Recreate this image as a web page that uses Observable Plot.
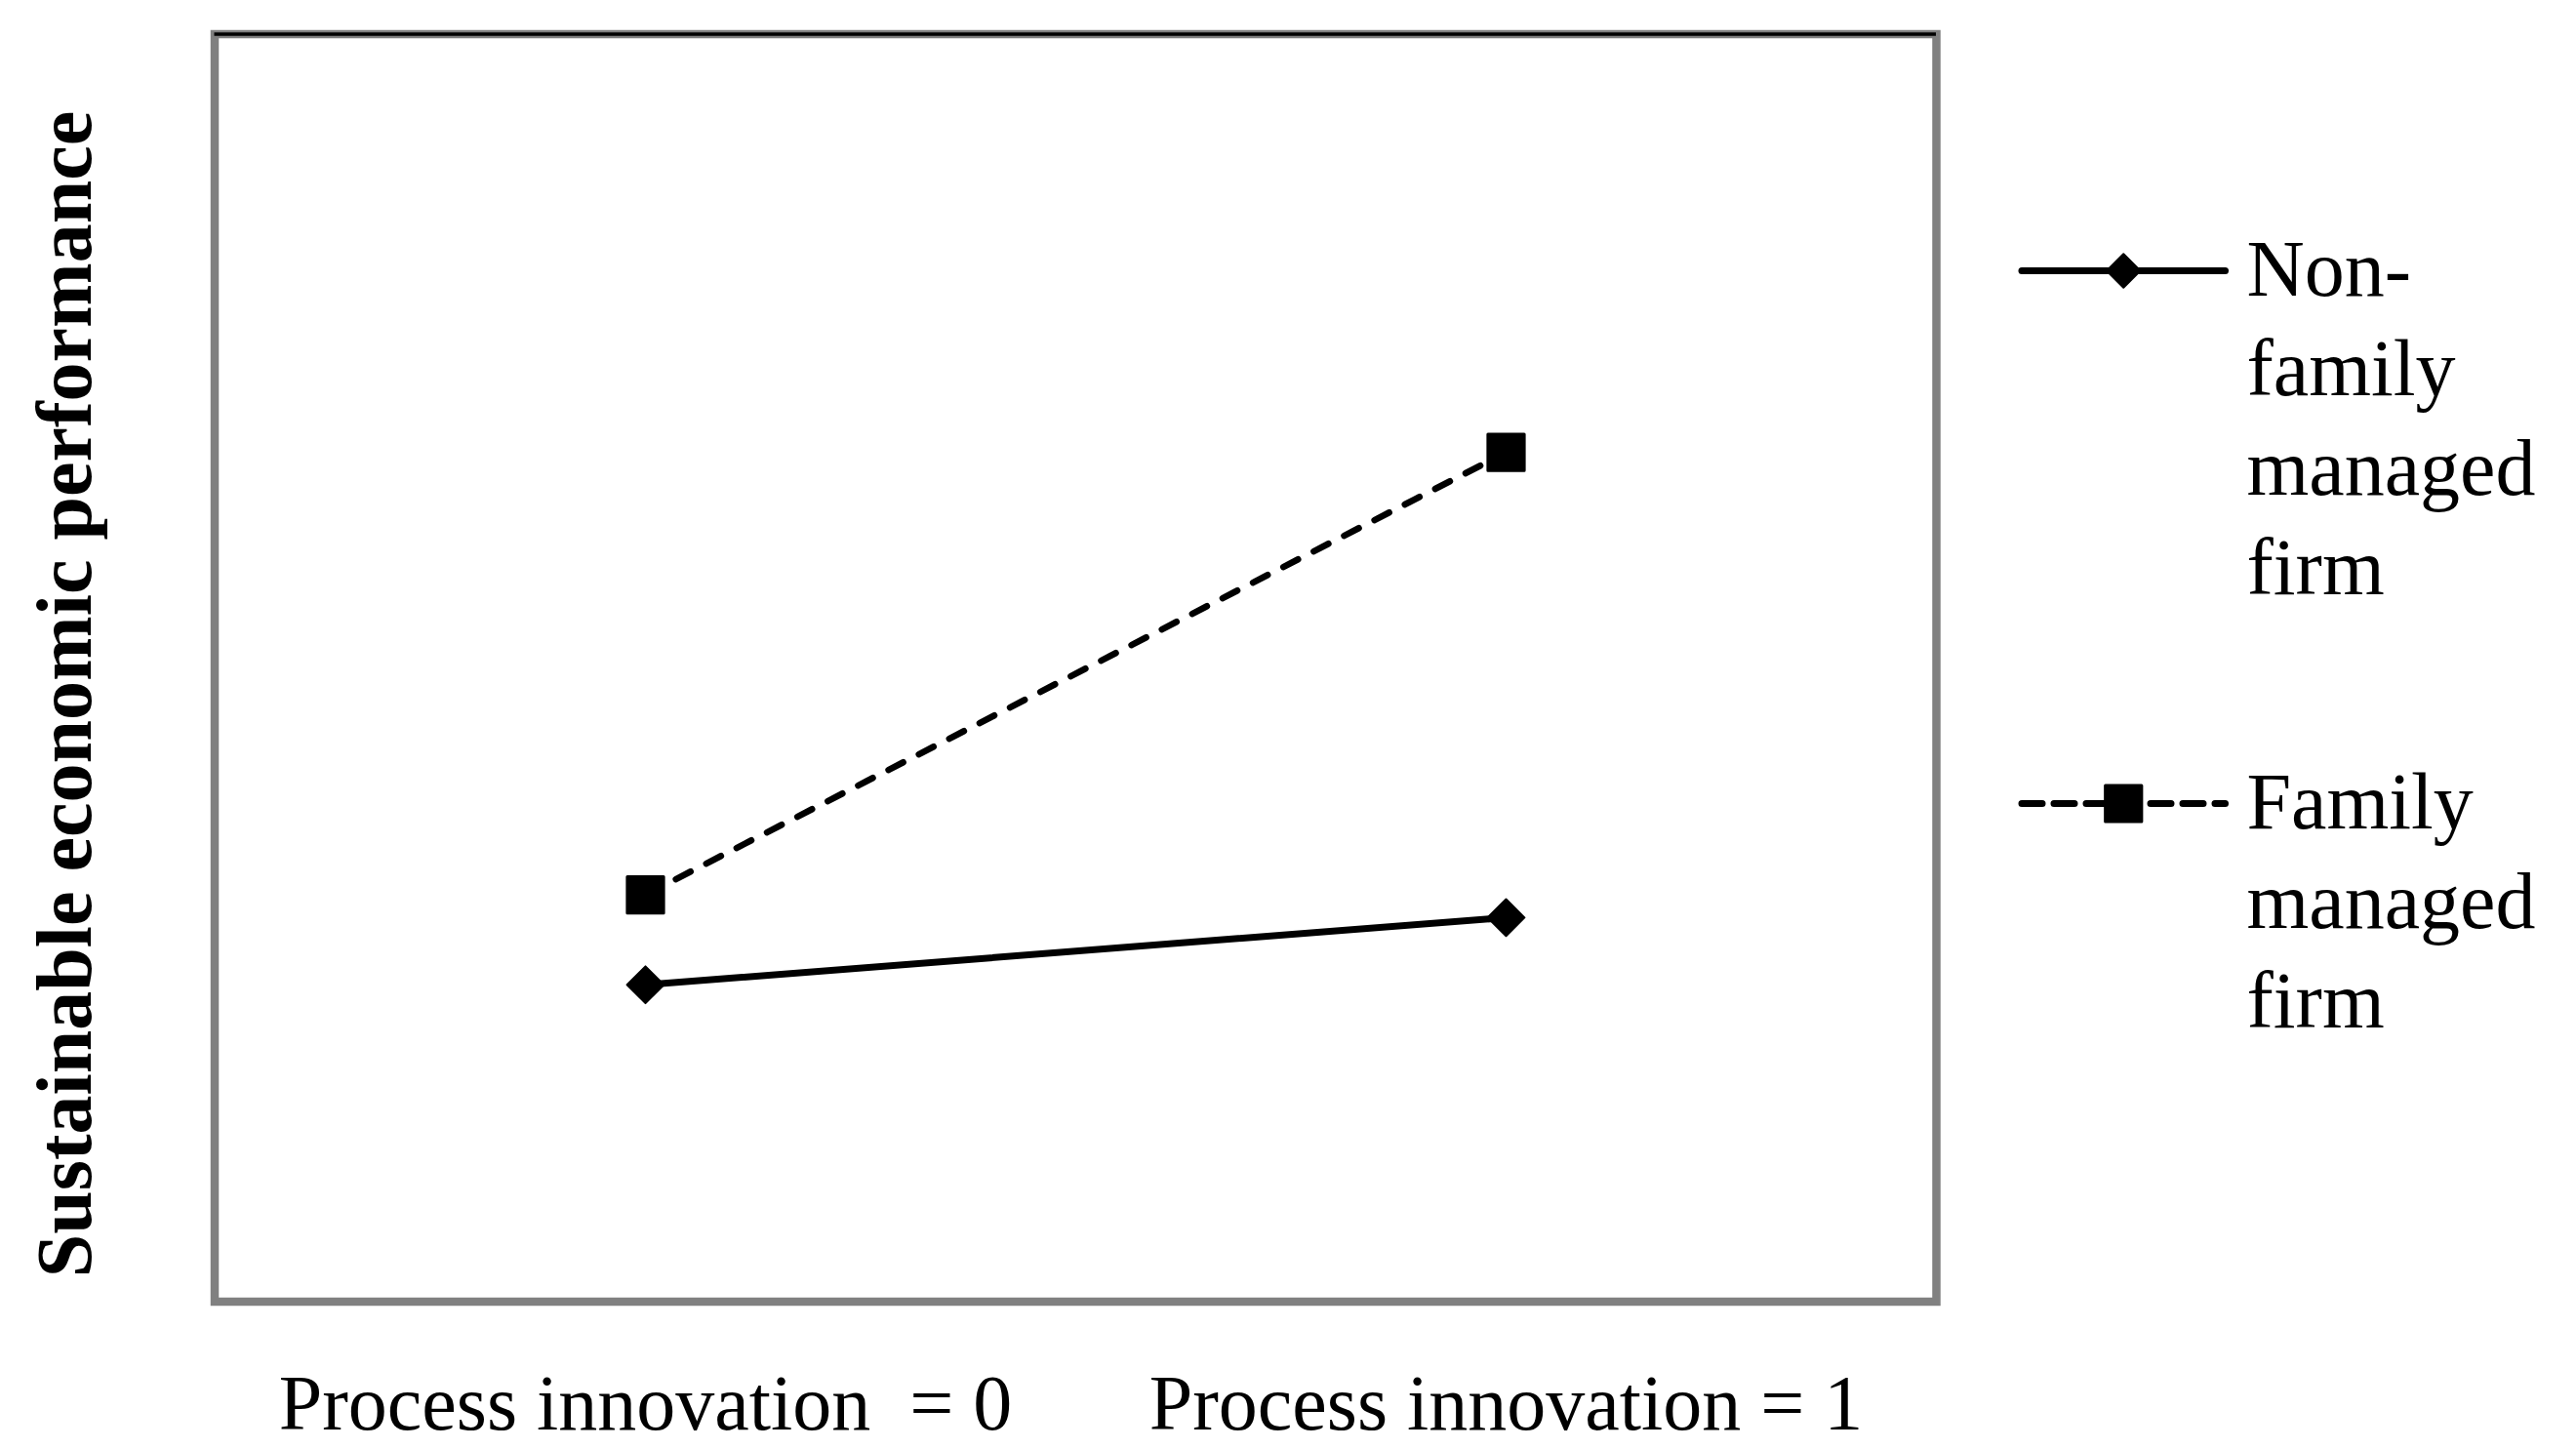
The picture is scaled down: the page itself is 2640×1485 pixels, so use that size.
<!DOCTYPE html>
<html>
<head>
<meta charset="utf-8">
<script src="https://cdn.jsdelivr.net/npm/d3@7"></script>
<script src="https://cdn.jsdelivr.net/npm/@observablehq/plot@0.6"></script>
<style>
  html, body { margin: 0; padding: 0; background: #fff; }
  #wrap { position: relative; width: 2640px; height: 1485px; background: #fff; }
  #legend { position: absolute; left: 2068px; top: 200px; }
  svg { overflow: visible; }
</style>
</head>
<body>
<div id="wrap"><div id="chart"></div><div id="legend"></div></div>
<script>
// ---- data ----
const categories = ["Process innovation\u00a0 = 0", "Process innovation = 1"];
const seriesNames = ["Non-family managed firm", "Family managed firm"];
const nonFamilyValues = [2.50, 3.03];
const familyValues = [3.21, 6.70];
const legendLabels = ["Non-\nfamily\nmanaged\nfirm", "Family\nmanaged\nfirm"];
const yAxisLabel = "Sustainable economic performance";
const yDomain = [0, 10];

const nonFamily = categories.map((c, i) => ({cat: c, series: seriesNames[0], value: nonFamilyValues[i]}));
const family = categories.map((c, i) => ({cat: c, series: seriesNames[1], value: familyValues[i]}));

const font = "'Liberation Serif', 'Times New Roman', serif";

const chart = Plot.plot({
  width: 2640,
  height: 1485,
  marginLeft: 219.5,
  marginRight: 656,
  marginTop: 34.5,
  marginBottom: 151.5,
  style: {fontFamily: font, color: "black", background: "white", overflow: "visible"},
  x: {type: "point", domain: categories, padding: 0.5, label: null},
  y: {domain: yDomain, axis: null},
  marks: [
    Plot.frame({stroke: "#808080", strokeWidth: 8.5}),
    Plot.ruleY([yDomain[1]], {stroke: "black", strokeWidth: 3.5}),
    Plot.line(nonFamily, {x: "cat", y: "value", stroke: "black", strokeWidth: 7, strokeLinecap: "round"}),
    Plot.line(family, {x: "cat", y: "value", stroke: "black", strokeWidth: 6.5, strokeDasharray: "17,18", strokeLinecap: "round"}),
    Plot.dot(nonFamily, {x: "cat", y: "value", symbol: "diamond2", r: 17, fill: "black", stroke: "black", strokeWidth: 2, strokeLinejoin: "round"}),
    Plot.dot(family, {x: "cat", y: "value", symbol: "square", r: 21, fill: "black", stroke: "black", strokeWidth: 3, strokeLinejoin: "round"}),
    Plot.axisX({tickSize: 0, tickPadding: 74.5, fontSize: 80, label: null, fill: "black"}),
    Plot.text([yAxisLabel], {text: d => d, frameAnchor: "left", textAnchor: "middle", rotate: -90, fontSize: 80, fontWeight: "bold", fill: "black", dx: -153, dy: 27})
  ]
});
document.getElementById("chart").appendChild(chart);

// ---- legend ----
const legendRows = seriesNames.map((s, i) => ({series: s, i, label: legendLabels[i]}));
const legend = Plot.plot({
  width: 572,
  height: 900,
  margin: 0,
  style: {fontFamily: font, color: "black", background: "transparent", overflow: "visible"},
  x: {domain: [0, 1], range: [3.5, 212], axis: null},
  y: {domain: [0, 1], range: [77, 623], axis: null},
  marks: [
    Plot.link(legendRows.filter(d => d.i === 0), {x1: () => 0, x2: () => 1, y1: "i", y2: "i", stroke: "black", strokeWidth: 7, strokeLinecap: "round"}),
    Plot.link(legendRows.filter(d => d.i === 1), {x1: () => 0, x2: () => 1, y1: "i", y2: "i", stroke: "black", strokeWidth: 7, strokeLinecap: "round", strokeDasharray: "21,12"}),
    Plot.dot(legendRows.filter(d => d.i === 0), {x: () => 0.5, y: "i", symbol: "diamond2", r: 15.5, fill: "black", stroke: "black", strokeWidth: 2, strokeLinejoin: "round"}),
    Plot.dot(legendRows.filter(d => d.i === 1), {x: () => 0.5, y: "i", symbol: "square", r: 21, fill: "black", stroke: "black", strokeWidth: 3, strokeLinejoin: "round"}),
    Plot.text(legendRows, {x: () => 1, y: "i", text: "label", textAnchor: "start", lineAnchor: "top", lineHeight: 1.245, fontSize: 82, fill: "black", dx: 22, dy: -47})
  ]
});
document.getElementById("legend").appendChild(legend);
</script>
</body>
</html>
